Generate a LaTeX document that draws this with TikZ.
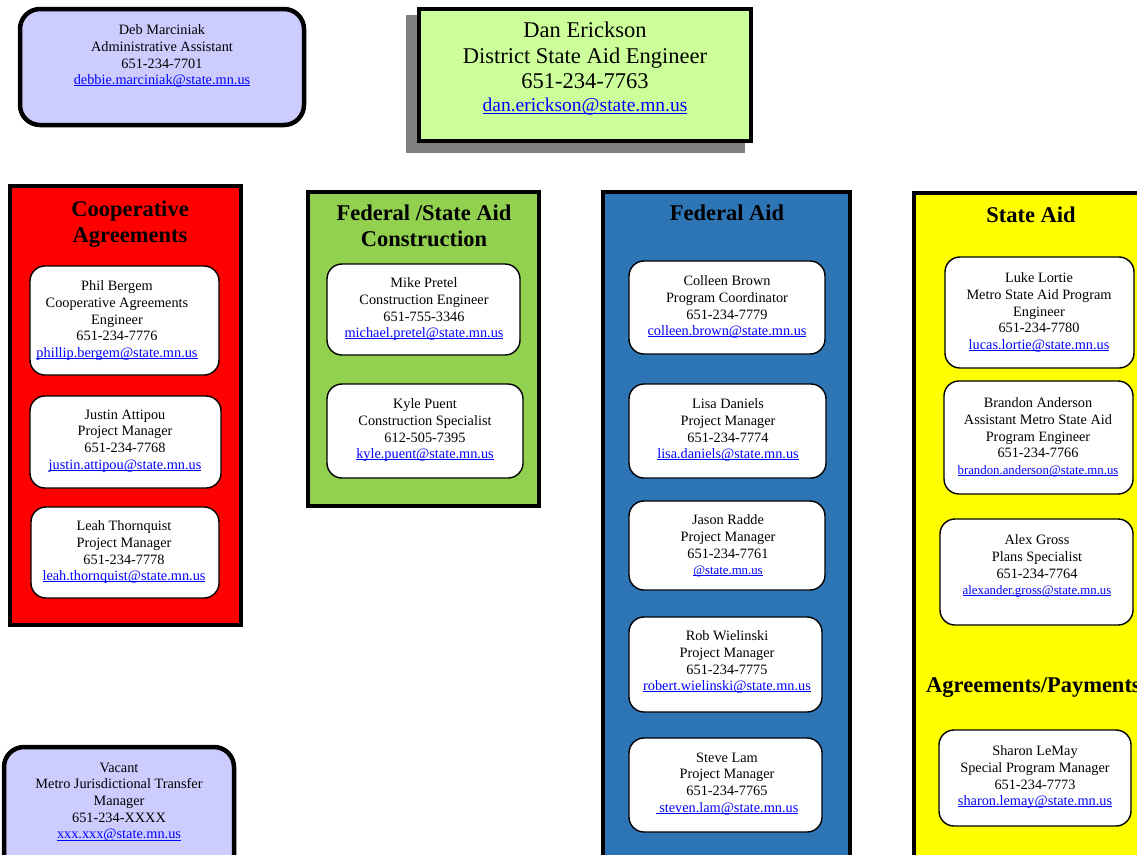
\documentclass[tikz,border=0pt]{standalone}
\usepackage{fontspec}
\setmainfont{Liberation Serif}
\definecolor{lav}{RGB}{204,204,255}
\definecolor{lime}{RGB}{204,255,153}
\definecolor{fgreen}{RGB}{146,208,80}
\definecolor{fblue}{RGB}{46,117,182}
\definecolor{fred}{RGB}{255,0,0}
\definecolor{fyellow}{RGB}{255,255,0}
\definecolor{shadowgray}{RGB}{128,128,128}
\definecolor{link}{RGB}{0,0,255}
\newcommand{\mail}[1]{\textcolor{link}{\setbox0\hbox{#1}\rlap{\rule[-0.11em]{\wd0}{0.065em}}\box0}}
\newcommand{\smallmail}[1]{{\fontsize{12.8}{16.7}\selectfont\mail{#1}}}
\tikzset{
  panel/.style={draw=black, line width=4pt},
  bigbox/.style={draw=black, line width=4.5pt, fill=lav, rounded corners=20pt},
  card/.style={draw=black, fill=white, line width=1.4pt, rounded corners=15pt},
  txt/.style={align=center, inner sep=0pt, anchor=north, font=\fontsize{14.3}{16.7}\selectfont},
  ttl/.style={align=center, inner sep=0pt, anchor=north, font=\fontsize{22.5}{26}\selectfont\bfseries},
}
\begin{document}
\begin{tikzpicture}[x=1pt,y=-1pt]
\useasboundingbox (0,0) rectangle (1137,854);
\clip (0,0) rectangle (1137,854);
\fill[white] (0,0) rectangle (1137,854);

% Deb
\draw[bigbox] (20,9) rectangle (304,125);
\node[txt] (deb) at (162,24.5) {Deb Marciniak\\Administrative Assistant\\651-234-7701\\\mail{debbie.marciniak@state.mn.us}};

% Dan
\fill[shadowgray] (406,15) rectangle (745,153);
\draw[draw=black, line width=3.5pt, fill=lime] (419,9) rectangle (751,141);
\node[align=center, inner sep=0pt, anchor=north, font=\fontsize{22.5}{25.5}\selectfont] (dan) at (585,22) {Dan Erickson\\District State Aid Engineer\\651-234-7763};
\node[inner sep=0pt, anchor=north, font=\fontsize{19.5}{22}\selectfont] (danmail) at (585,98) {\mail{dan.erickson@state.mn.us}};

% Cooperative Agreements
\draw[panel, fill=fred] (10,186) rectangle (241,625);
\node[ttl] (coop) at (130,201) {Cooperative\\Agreements};
\draw[card] (30,266) rectangle (219,375);
\node[txt] (phil) at (117,280.5) {Phil Bergem\\Cooperative Agreements\\Engineer\\651-234-7776\\\mail{phillip.bergem@state.mn.us}};
\draw[card] (30,396) rectangle (221,488);
\node[txt] (justin) at (125,409.5) {Justin Attipou\\Project Manager\\651-234-7768\\\mail{justin.attipou@state.mn.us}};
\draw[card] (31,507) rectangle (219,598);
\node[txt] (leah) at (124,520.5) {Leah Thornquist\\Project Manager\\651-234-7778\\\mail{leah.thornquist@state.mn.us}};

% Federal / State Aid Construction
\draw[panel, fill=fgreen] (308,192) rectangle (539,506);
\node[ttl] (fsac) at (424,205) {Federal /State Aid\\Construction};
\draw[card] (327,264) rectangle (520,355);
\node[txt] (mike) at (424,277.5) {Mike Pretel\\Construction Engineer\\651-755-3346\\\mail{michael.pretel@state.mn.us}};
\draw[card] (327,384) rectangle (523,478);
\node[txt] (kyle) at (425,398.5) {Kyle Puent\\Construction Specialist\\612-505-7395\\\mail{kyle.puent@state.mn.us}};

% Federal Aid
\draw[panel, fill=fblue] (603,192) rectangle (850,880);
\node[ttl] (fa) at (727,205) {Federal Aid};
\draw[card] (629,261) rectangle (825,354);
\node[txt] (colleen) at (727,275.5) {Colleen Brown\\Program Coordinator\\651-234-7779\\\mail{colleen.brown@state.mn.us}};
\draw[card] (629,384) rectangle (826,478);
\node[txt] (lisa) at (728,398.5) {Lisa Daniels\\Project Manager\\651-234-7774\\\mail{lisa.daniels@state.mn.us}};
\draw[card] (629,501) rectangle (825,590);
\node[txt] (jason) at (728,514.5) {Jason Radde\\Project Manager\\651-234-7761\\\smallmail{@state.mn.us}};
\draw[card] (629,617) rectangle (822,712);
\node[txt] (rob) at (727,630.5) {Rob Wielinski\\Project Manager\\651-234-7775\\\mail{robert.wielinski@state.mn.us}};
\draw[card] (629,738) rectangle (822,832);
\node[txt] (steve) at (727,752.5) {Steve Lam\\Project Manager\\651-234-7765\\\mail{\ steven.lam@state.mn.us}};

% State Aid
\draw[panel, fill=fyellow] (914,193) rectangle (1160,880);
\node[ttl] (sa) at (1031,207) {State Aid};
\draw[card] (945,257) rectangle (1134,368);
\node[txt] (luke) at (1039,272.5) {Luke Lortie\\Metro State Aid Program\\Engineer\\651-234-7780\\\mail{lucas.lortie@state.mn.us}};
\draw[card] (944,381) rectangle (1133,494);
\node[txt] (brandon) at (1038,397.5) {Brandon Anderson\\Assistant Metro State Aid\\Program Engineer\\651-234-7766\\\smallmail{brandon.anderson@state.mn.us}};
\draw[card] (940,519) rectangle (1133,625);
\node[txt] (alex) at (1037,534.5) {Alex Gross\\Plans Specialist\\651-234-7764\\\smallmail{alexander.gross@state.mn.us}};
\node[ttl, anchor=north west] (agp) at (926,677) {Agreements/Payments};
\draw[card] (939,730) rectangle (1131,826);
\node[txt] (sharon) at (1035,745.5) {Sharon LeMay\\Special Program Manager\\651-234-7773\\\mail{sharon.lemay@state.mn.us}};

% Vacant
\draw[bigbox] (4,747) rectangle (234,880);
\node[txt] (vacant) at (119,762.5) {Vacant\\Metro Jurisdictional Transfer\\Manager\\651-234-XXXX\\\mail{xxx.xxx@state.mn.us}};
\end{tikzpicture}
\end{document}
